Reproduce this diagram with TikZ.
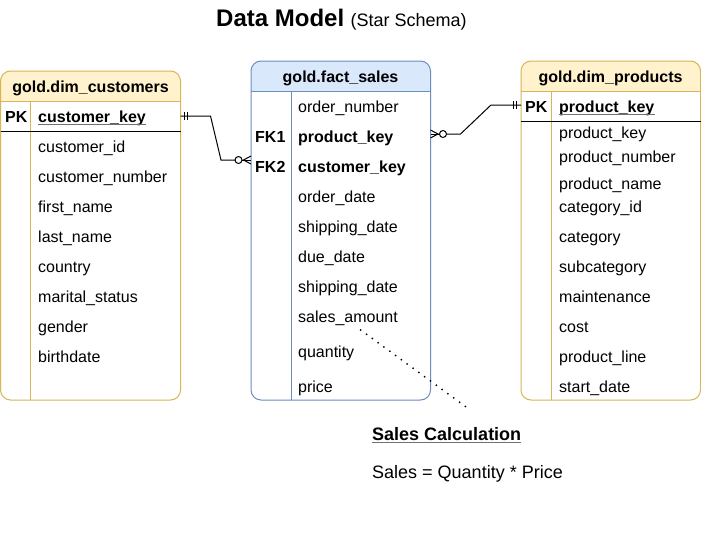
\documentclass[tikz,border=0pt]{standalone}
\usepackage{fontspec}
\setmainfont{Liberation Sans}
\usetikzlibrary{calc}
\definecolor{yfill}{HTML}{FFF2CC}
\definecolor{yline}{HTML}{D6B656}
\definecolor{bfill}{HTML}{DAE8FC}
\definecolor{bline}{HTML}{6C8EBF}
\definecolor{ulgray}{HTML}{707070}
\begin{document}
\begin{tikzpicture}[x=1pt,y=-1pt,
  rowtxt/.style={anchor=base west, inner sep=0pt, font=\fontsize{16}{19}\selectfont},
  keytxt/.style={rowtxt, font=\fontsize{16}{19}\selectfont\bfseries},
  headtxt/.style={anchor=base, inner sep=0pt, font=\fontsize{16}{19}\selectfont\bfseries},
  tblline/.style={line width=1pt},
  conn/.style={line width=1pt, black},
  ul/.style={line width=1pt, ulgray}]
\useasboundingbox (0,0) rectangle (701,533);
\fill[white] (0,0) rectangle (701,533);

% title
\node[anchor=base west, inner sep=0pt, font=\fontsize{24}{28}\selectfont\bfseries] (title) at (216,26) {Data Model};
\node[anchor=base west, inner sep=0pt, font=\fontsize{18}{21}\selectfont] (subtitle) at ($(title.base east)+(6,0)$) {(Star Schema)};

% ---------- customers table ----------
\begin{scope}
  \clip[rounded corners=10] (0.5,71) rectangle (180.5,400);
  \fill[yfill] (0.5,71) rectangle (180.5,101);
\end{scope}
\draw[tblline, yline, rounded corners=10] (0.5,71) rectangle (180.5,400);
\draw[tblline, yline] (0.5,101) -- (180.5,101);
\draw[tblline, yline] (30.5,101) -- (30.5,400);
\draw[tblline, black] (0.5,131) -- (180.5,131);
\node[headtxt] (cust) at (90.5,92) {gold.dim\_customers};
\node[keytxt] (cpk) at (5,122) {PK};
\node[keytxt] (ckey) at (38,122) {customer\_key};
\draw[ul] ($(ckey.base west)+(0,2.5)$) -- ($(ckey.base east)+(0,2.5)$);
\node[rowtxt] (c1) at (38,152) {customer\_id};
\node[rowtxt] (c2) at (38,182) {customer\_number};
\node[rowtxt] (c3) at (38,212) {first\_name};
\node[rowtxt] (c4) at (38,242) {last\_name};
\node[rowtxt] (c5) at (38,272) {country};
\node[rowtxt] (c6) at (38,302) {marital\_status};
\node[rowtxt] (c7) at (38,332) {gender};
\node[rowtxt] (c8) at (38,362) {birthdate};

% ---------- fact sales table ----------
\begin{scope}
  \clip[rounded corners=10] (251,61) rectangle (430.5,400);
  \fill[bfill] (251,61) rectangle (430.5,91);
\end{scope}
\draw[tblline, bline, rounded corners=10] (251,61) rectangle (430.5,400);
\draw[tblline, bline] (251,91) -- (430.5,91);
\draw[tblline, bline] (291,91) -- (291,400);
\node[headtxt] (fact) at (340.5,82) {gold.fact\_sales};
\node[rowtxt] (f1) at (298,112) {order\_number};
\node[keytxt] (fk1) at (255,142) {FK1};
\node[keytxt] (f2) at (298,142) {product\_key};
\node[keytxt] (fk2) at (255,172) {FK2};
\node[keytxt] (f3) at (298,172) {customer\_key};
\node[rowtxt] (f4) at (298,202) {order\_date};
\node[rowtxt] (f5) at (298,232) {shipping\_date};
\node[rowtxt] (f6) at (298,262) {due\_date};
\node[rowtxt] (f7) at (298,292) {shipping\_date};
\node[rowtxt] (f8) at (298,322) {sales\_amount};
\node[rowtxt] (f9) at (298,357) {quantity};
\node[rowtxt] (f10) at (298,392) {price};

% ---------- products table ----------
\begin{scope}
  \clip[rounded corners=10] (521,61) rectangle (700.5,400);
  \fill[yfill] (521,61) rectangle (700.5,91);
\end{scope}
\draw[tblline, yline, rounded corners=10] (521,61) rectangle (700.5,400);
\draw[tblline, yline] (521,91) -- (700.5,91);
\draw[tblline, yline] (551,91) -- (551,400);
\draw[tblline, black] (521,121) -- (700.5,121);
\node[headtxt] (prod) at (610.5,82) {gold.dim\_products};
\node[keytxt] (ppk) at (525,112) {PK};
\node[keytxt] (pkey) at (559,112) {product\_key};
\draw[ul] ($(pkey.base west)+(0,2.5)$) -- ($(pkey.base east)+(0,2.5)$);
\node[rowtxt] (p1) at (559,138.5) {product\_key};
\node[rowtxt] (p2) at (559,162) {product\_number};
\node[rowtxt] (p3) at (559,189) {product\_name};
\node[rowtxt] (p4) at (559,212) {category\_id};
\node[rowtxt] (p5) at (559,242) {category};
\node[rowtxt] (p6) at (559,272) {subcategory};
\node[rowtxt] (p7) at (559,302) {maintenance};
\node[rowtxt] (p8) at (559,332) {cost};
\node[rowtxt] (p9) at (559,362) {product\_line};
\node[rowtxt] (p10) at (559,392) {start\_date};

% ---------- connectors ----------
\coordinate (cA) at (180.5,116);
\coordinate (fA) at (251,160);
\coordinate (fB) at (430.5,134);
\coordinate (pA) at (521,105);

% customers (one, mandatory) -> fact (zero or many)
\draw[conn] (cA) -- ++(30,0) -- ++(10.5,44) -- ($(fA)+(-16,0)$);
\draw[conn] ($(cA)+(3.5,-4)$) -- ++(0,8);
\draw[conn] ($(cA)+(6.5,-4)$) -- ++(0,8);
\draw[conn] ($(fA)+(-12.5,0)$) circle (3.5);
\draw[conn] ($(fA)+(0,-4)$) -- ($(fA)+(-7.5,0)$) -- ($(fA)+(0,4)$);
\draw[conn] ($(fA)+(-9,0)$) -- (fA);

% fact (zero or many) -> products (one, mandatory)
\draw[conn] ($(fB)+(16,0)$) -- ++(14,0) -- ($(pA)+(-30,0)$) -- (pA);
\draw[conn] ($(fB)+(12.5,0)$) circle (3.5);
\draw[conn] ($(fB)+(0,-4)$) -- ($(fB)+(7.5,0)$) -- ($(fB)+(0,4)$);
\draw[conn] (fB) -- ($(fB)+(9,0)$);
\draw[conn] ($(pA)+(-8,-4)$) -- ++(0,8);
\draw[conn] ($(pA)+(-5,-4)$) -- ++(0,8);

% ---------- sales calculation note ----------
\coordinate (sa) at (360.7,330);
\coordinate (sc) at (465.7,406.7);
\draw[line width=2pt, line cap=round, dash pattern=on 0pt off 7.2pt] (sa) -- (sc);
\node[anchor=base west, inner sep=0pt, font=\fontsize{18}{21}\selectfont\bfseries] (calc) at (372,440) {Sales Calculation};
\draw[ul] ($(calc.base west)+(0,2.5)$) -- ($(calc.base east)+(0,2.5)$);
\node[anchor=base west, inner sep=0pt, font=\fontsize{18}{21}\selectfont] (formula) at (372,478) {Sales = Quantity * Price};
\end{tikzpicture}
\end{document}
